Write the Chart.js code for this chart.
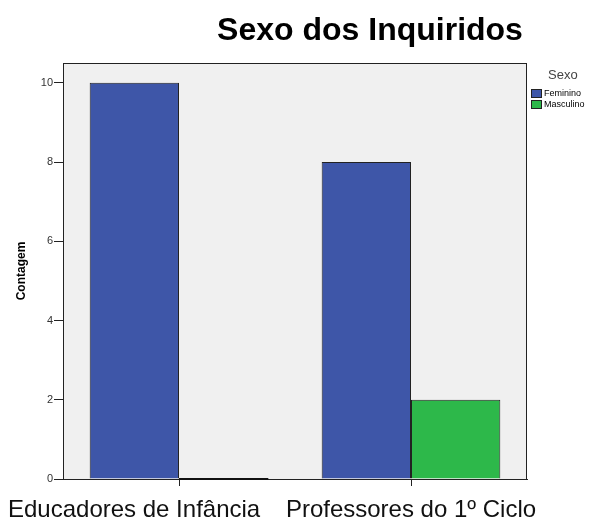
<!DOCTYPE html>
<html>
<head>
<meta charset="utf-8">
<script src="https://cdn.jsdelivr.net/npm/chart.js@4.4.1/dist/chart.umd.min.js"></script>
<style>
  html, body { margin: 0; padding: 0; background: #fff; }
  #wrap { width: 600px; height: 520px; }
</style>
</head>
<body>
<div id="wrap"><canvas id="chart" width="600" height="520"></canvas></div>
<script>
const categories = ['Educadores de Infância', 'Professores do 1º Ciclo'];
const feminino = [10, 8];
const masculino = [0, 2];
const yTicks = [0, 2, 4, 6, 8, 10];

const FONT = "'Liberation Sans', Arial, sans-serif";

// background, border, title, legend and x labels
const decorPlugin = {
  id: 'decor',
  beforeDraw(chart) {
    const { ctx, chartArea: a } = chart;
    ctx.save();
    ctx.fillStyle = '#f0f0f0';
    ctx.fillRect(a.left, a.top, a.right - a.left, a.bottom - a.top);
    ctx.restore();
  },
  afterDraw(chart) {
    const { ctx, chartArea: a } = chart;
    ctx.save();
    ctx.strokeStyle = '#222';
    ctx.lineWidth = 1;
    ctx.strokeRect(a.left + 0.5, a.top + 0.5, a.right - a.left - 1, a.bottom - a.top);

    // zero-height bars show as a heavier line on the axis
    chart.data.datasets.forEach((ds, di) => {
      chart.getDatasetMeta(di).data.forEach((bar, i) => {
        if (ds.data[i] === 0) {
          ctx.fillStyle = '#111';
          ctx.fillRect(bar.x - bar.width / 2, a.bottom - 1, bar.width, 2);
        }
      });
    });

    // title
    ctx.fillStyle = '#000';
    ctx.font = 'bold 32px ' + FONT;
    ctx.textAlign = 'center';
    ctx.textBaseline = 'alphabetic';
    ctx.fillText('Sexo dos Inquiridos', 370, 40);

    // legend
    ctx.textBaseline = 'middle';
    ctx.font = '13px ' + FONT;
    ctx.textAlign = 'left';
    ctx.fillStyle = '#444';
    ctx.fillText('Sexo', 548, 75);
    ctx.font = '9px ' + FONT;
    chart.data.datasets.forEach((ds, i) => {
      const y = 93 + i * 11;
      ctx.fillStyle = ds.backgroundColor;
      ctx.fillRect(531, y - 4, 11, 8);
      ctx.strokeStyle = '#222';
      ctx.strokeRect(531.5, y - 3.5, 10, 8);
      ctx.fillStyle = '#000';
      ctx.fillText(ds.label, 544, y + 0.5);
    });

    // x category labels: centred on ticks, pushed apart when they collide
    const xs = chart.scales.x;
    ctx.font = '24px ' + FONT;
    ctx.fillStyle = '#111';
    ctx.textAlign = 'left';
    ctx.textBaseline = 'alphabetic';
    const widths = categories.map(c => ctx.measureText(c).width);
    const lefts = categories.map((c, i) => xs.getPixelForTick(i) - widths[i] / 2);
    for (let i = lefts.length - 1; i >= 0; i--) {
      const maxLeft = i === lefts.length - 1 ? chart.width - 8 - widths[i] : lefts[i + 1] - 28 - widths[i];
      lefts[i] = Math.min(lefts[i], maxLeft);
    }
    lefts.forEach((l, i) => {
      ctx.fillText(categories[i], Math.max(l, 8), 517);
    });
    ctx.restore();
  }
};

new Chart(document.getElementById('chart'), {
  type: 'bar',
  data: {
    labels: categories,
    datasets: [
      {
        label: 'Feminino',
        data: feminino,
        backgroundColor: '#3e56a8',
        borderColor: '#222',
        borderWidth: 1,
        categoryPercentage: 0.77,
        barPercentage: 1
      },
      {
        label: 'Masculino',
        data: masculino,
        backgroundColor: '#2db84a',
        borderColor: '#222',
        borderWidth: 1,
        categoryPercentage: 0.77,
        barPercentage: 1
      }
    ]
  },
  options: {
    responsive: false,
    animation: false,
    layout: { padding: { left: 0, right: 73, top: 63, bottom: 0 } },
    plugins: {
      legend: { display: false },
      title: { display: false },
      tooltip: { enabled: false }
    },
    scales: {
      x: {
        afterFit(scale) { scale.height = 41; },
        ticks: { display: false },
        grid: {
          display: true,
          drawOnChartArea: false,
          drawTicks: true,
          tickLength: 7,
          offset: false,
          color: '#222'
        },
        border: { display: true, color: '#222' }
      },
      y: {
        min: 0,
        max: 10.5,
        afterFit(scale) { scale.width = 63; },
        afterBuildTicks(scale) {
          scale.ticks = yTicks.map(v => ({ value: v }));
        },
        ticks: {
          color: '#333',
          font: { family: FONT, size: 11 },
          padding: 1
        },
        grid: {
          display: true,
          drawOnChartArea: false,
          drawTicks: true,
          tickLength: 9,
          color: '#222'
        },
        border: { display: true, color: '#222' },
        title: {
          display: true,
          text: 'Contagem',
          color: '#000',
          font: { family: FONT, size: 12, weight: 'bold' },
          padding: { top: 14, bottom: 0 }
        }
      }
    }
  },
  plugins: [decorPlugin]
});
</script>
</body>
</html>
